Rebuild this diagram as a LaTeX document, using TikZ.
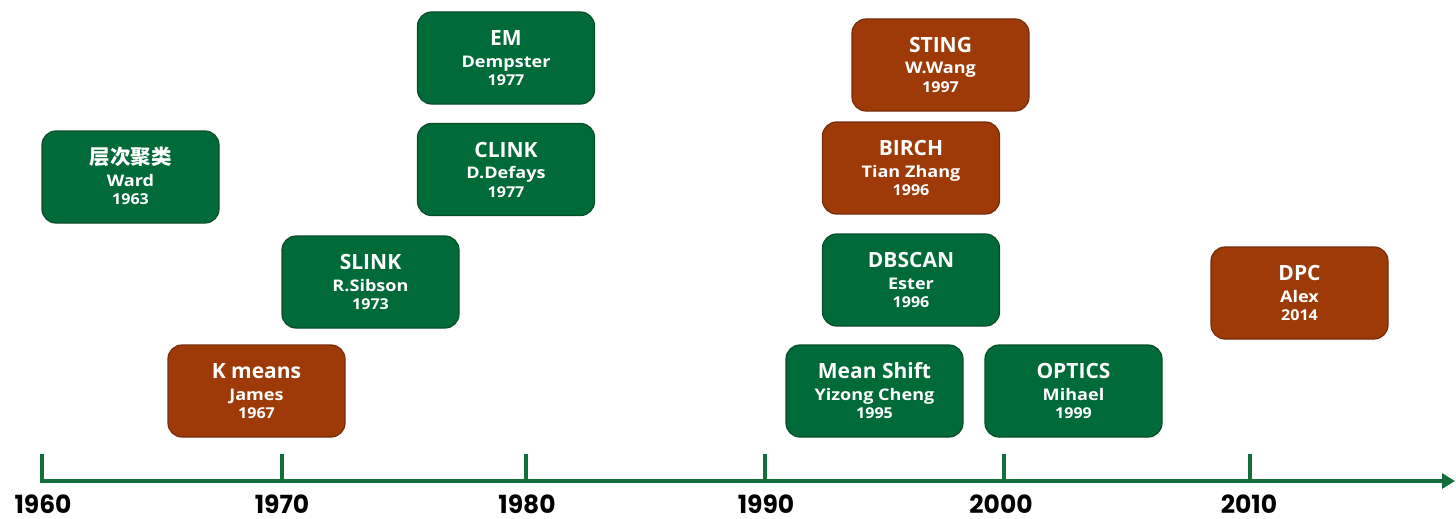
\documentclass[tikz,border=0pt]{standalone}
\usepackage{fontspec}
\setmainfont{Open Sans}
\newfontfamily\subfont{Open Sans}[FakeStretch=1.13]
\newfontfamily\yrfont{Open Sans}[FakeStretch=1.07]
\newfontfamily\cjk{Noto Sans CJK SC}
\newfontfamily\axisfont{Poppins}
\usetikzlibrary{arrows.meta,calc}
\definecolor{tgreen}{RGB}{0,106,56}
\definecolor{tgreenD}{RGB}{8,78,40}
\definecolor{tbrown}{RGB}{158,58,8}
\definecolor{tbrownD}{RGB}{118,44,10}
\definecolor{axisgreen}{RGB}{18,110,58}
\tikzset{
  box/.style={rectangle, rounded corners=14pt, minimum width=177pt, minimum height=92pt, line width=1.2pt, inner sep=0pt},
  gbox/.style={box, fill=tgreen, draw=tgreenD},
  bbox/.style={box, fill=tbrown, draw=tbrownD},
  ttl/.style={text=white, font=\bfseries\fontsize{21}{21}\selectfont, anchor=base, inner sep=0pt},
  sub/.style={text=white, font=\subfont\bfseries\fontsize{16}{16}\selectfont, anchor=base, inner sep=0pt},
  yr/.style={text=white, font=\yrfont\bfseries\fontsize{15}{15}\selectfont, anchor=base, inner sep=0pt},
  axisline/.style={draw=axisgreen, line width=3.2pt},
  yearlbl/.style={font=\axisfont\bfseries\fontsize{25}{25}\selectfont, anchor=base, inner sep=0pt, text=black},
}
\newcommand\tlbox[7]{%
  \node[#4] (#1) at (#2,#3) {};
  \node[ttl] (#1-t) at ($(#1.center)+(0,-12.5)$) {#5};
  \node[sub] (#1-s) at ($(#1.center)+(0,9)$) {#6};
  \node[yr] (#1-y) at ($(#1.center)+(0,27.5)$) {#7};
}
\begin{document}
\begin{tikzpicture}[x=1pt,y=-1pt]
\useasboundingbox (0,0) rectangle (1456,519);
% boxes
\tlbox{ward}{130.5}{177}{gbox}{{\cjk\bfseries\fontsize{20.5}{20.5}\selectfont 层次聚类}}{Ward}{1963}
\tlbox{kmeans}{256.5}{391}{bbox}{K means}{James}{1967}
\tlbox{slink}{370.5}{282}{gbox}{SLINK}{R.Sibson}{1973}
\tlbox{em}{506}{58}{gbox}{EM}{Dempster}{1977}
\tlbox{clink}{506}{169.5}{gbox}{CLINK}{D.Defays}{1977}
\tlbox{sting}{940.5}{65}{bbox}{STING}{W.Wang}{1997}
\tlbox{birch}{911}{168}{bbox}{BIRCH}{Tian Zhang}{1996}
\tlbox{dbscan}{911}{280}{gbox}{DBSCAN}{Ester}{1996}
\tlbox{meanshift}{874.5}{391}{gbox}{Mean Shift}{Yizong Cheng}{1995}
\tlbox{optics}{1073.5}{391}{gbox}{OPTICS}{Mihael}{1999}
\tlbox{dpc}{1299.5}{293}{bbox}{DPC}{Alex}{2014}
% axis
\coordinate (a0) at (42,481);
\coordinate (aend) at (1455,481);
\draw[axisline, -{Triangle[length=13pt,width=15pt]}] (a0) -- (aend);
\foreach \x/\lbl/\lx in {42/1960/43, 282/1970/282, 526/1980/527, 765/1990/766, 1004/2000/1001, 1250/2010/1249}{
  \coordinate (t\lbl) at (\x,454);
  \coordinate (b\lbl) at (\x,482.6);
  \draw[axisline, line cap=butt] (t\lbl) -- (b\lbl);
  \node[yearlbl] (l\lbl) at (\lx,513) {\lbl};
}
\end{tikzpicture}
\end{document}
